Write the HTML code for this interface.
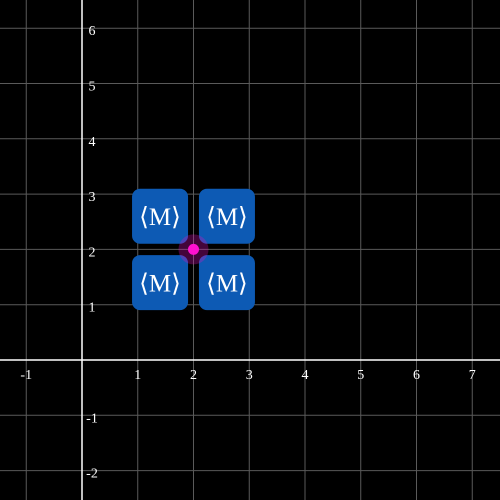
<!DOCTYPE html>
<html><head><meta charset="utf-8"><style>
html,body{margin:0;padding:0;background:#000;width:500px;height:500px;overflow:hidden}
svg{display:block;overflow:hidden}
text{font-family:"Liberation Serif","DejaVu Serif",serif;fill:#fff}
</style></head><body>
<svg id="c" width="500" height="500" viewBox="0 0 500 500"></svg>
<script>
const xTicks=[-1,1,2,3,4,5,6,7];
const yTicks=[-2,-1,1,2,3,4,5,6];
const imgX=[1.4,2.6,1.4,2.6];
const imgY=[2.6,2.6,1.4,1.4];
const pointX=[2];
const pointY=[2];
const UX=55.75,UY=55.3,OX=82,OY=360;
const sx=v=>OX+v*UX, sy=v=>OY-v*UY;
const svg=document.getElementById('c');
const NS='http://www.w3.org/2000/svg';
function mk(t,a,p){const e=document.createElementNS(NS,t);for(const k in a)e.setAttribute(k,a[k]);(p||svg).appendChild(e);return e;}
const grid=mk('g',{stroke:'#5a5a5a','stroke-width':1});


for(let i=-2;i<=8;i++){if(i===0)continue;const x=sx(i);mk('line',{x1:x,x2:x,y1:0,y2:500},grid);}
for(let j=-2;j<=7;j++){if(j===0)continue;const y=sy(j);mk('line',{x1:0,x2:500,y1:y,y2:y},grid);}
const xa=mk('line',{x1:0,x2:500,y1:OY,y2:OY,stroke:'#fff','stroke-width':1.5});


const ya=mk('line',{x1:OX,x2:OX,y1:0,y2:500,stroke:'#fff','stroke-width':1.5});


xTicks.forEach(v=>{const t=mk('text',{x:sx(v),y:OY+19,'text-anchor':'middle','font-size':14});t.textContent=v;

});
yTicks.forEach(v=>{const t=mk('text',{x:OX+10,y:sy(v)+7,'text-anchor':'middle','font-size':14});t.textContent=v;

});
imgX.forEach((v,i)=>{const g=mk('g',{});


const cx=sx(v),cy=sy(imgY[i]);
mk('rect',{x:cx-28,y:cy-27.5,width:56,height:55,rx:8,fill:'#0d5ab4'},g);
const t=mk('text',{x:cx,y:cy+9,'text-anchor':'middle','font-size':25},g);t.textContent='⟨M⟩';});
pointX.forEach((v,i)=>{const g=mk('g',{});


mk('circle',{cx:sx(v),cy:sy(pointY[i]),r:15,fill:'#e010c0','fill-opacity':0.3},g);
mk('circle',{cx:sx(v),cy:sy(pointY[i]),r:5.5,fill:'#ff10d0'},g);});
</script>
</body></html>
